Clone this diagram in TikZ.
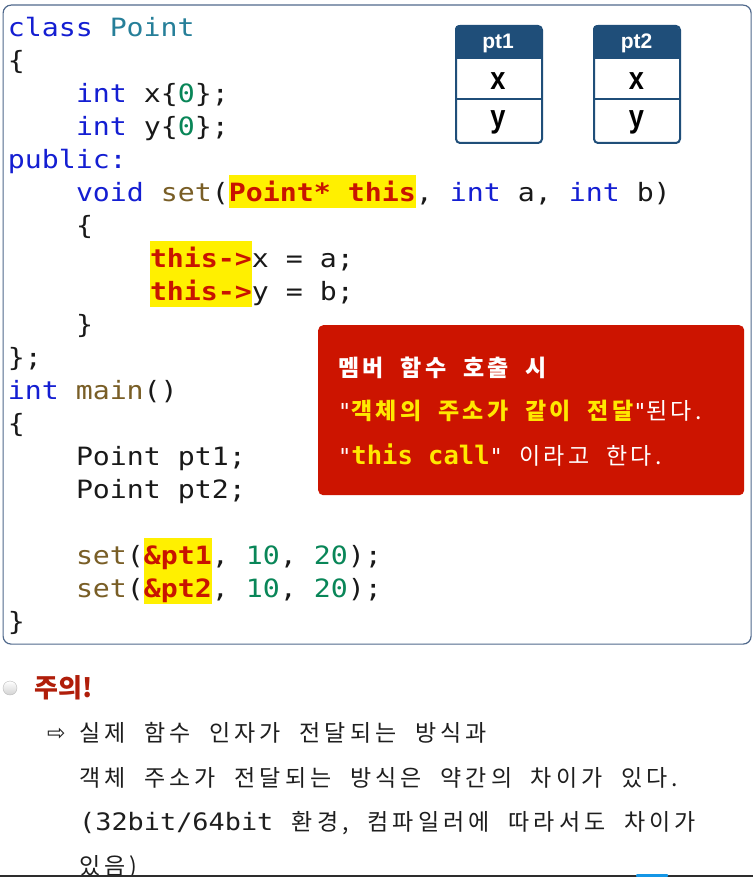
\documentclass[tikz,border=0pt]{standalone}
\usepackage{fontspec}
\setmainfont{DejaVu Sans}
\newfontfamily\codefont[FakeStretch=1.12]{DejaVu Sans Mono}
\newfontfamily\mymono{DejaVu Sans Mono}
\newfontfamily\krfont[LetterSpace=14,WordSpace=2]{Noto Sans CJK KR}
\newfontfamily\krbodyfont[LetterSpace=18,WordSpace=2]{Noto Sans CJK KR}
\newfontfamily\krplainfont{Noto Sans CJK KR}
\newfontfamily\hdrfont{Liberation Sans}
\newfontfamily\cellfont[FakeStretch=0.85]{Liberation Sans}
\newfontfamily\arrowfont{DejaVu Sans}

\definecolor{kwblue}{RGB}{20,30,210}
\definecolor{tyteal}{RGB}{38,127,153}
\definecolor{fnbrown}{RGB}{121,94,38}
\definecolor{numgreen}{RGB}{9,134,88}
\definecolor{codeblack}{RGB}{25,25,25}
\definecolor{hlyellow}{RGB}{255,240,0}
\definecolor{hlred}{RGB}{200,20,0}
\definecolor{frameblue}{RGB}{80,105,140}
\definecolor{hdrblue}{RGB}{31,78,121}
\definecolor{calloutred}{RGB}{204,20,0}
\definecolor{calloutyellow}{RGB}{255,232,0}
\definecolor{warnred}{RGB}{176,30,10}
\definecolor{bodytext}{RGB}{30,30,30}
\definecolor{bardark}{RGB}{45,45,45}
\definecolor{barblue}{RGB}{20,150,230}

\newcommand\ckw[1]{\textcolor{kwblue}{#1}}
\newcommand\cty[1]{\textcolor{tyteal}{#1}}
\newcommand\cfn[1]{\textcolor{fnbrown}{#1}}
\newcommand\cnum[1]{\textcolor{numgreen}{#1}}
\newcommand\chl[1]{{\setlength{\fboxsep}{0pt}\colorbox{hlyellow}{\rule[-6.75pt]{0pt}{33pt}\bfseries\color{hlred}#1}}}
\newcommand\cq{\mymono\fontsize{22}{22}\selectfont}
\newcommand\cmb{\mymono\bfseries\fontsize{25.5}{25.5}\selectfont}
\newcommand\bodylatin{\codefont\fontsize{24}{24}\selectfont}

\tikzset{
  code/.style={anchor=base west, inner sep=0pt, outer sep=0pt,
    font=\codefont\fontsize{25.2}{33}\selectfont, text=codeblack},
  hdrtxt/.style={anchor=base, inner sep=0pt, text=white,
    font=\hdrfont\bfseries\fontsize{21}{21}\selectfont},
  celltxt/.style={anchor=base, inner sep=0pt, text=black,
    font=\cellfont\bfseries\fontsize{32}{32}\selectfont},
  cotxt/.style={anchor=base west, inner sep=0pt, text=white,
    font=\krfont\fontsize{23}{23}\selectfont},
  bodytxt/.style={anchor=base west, inner sep=0pt, text=bodytext,
    font=\krbodyfont\fontsize{23}{23}\selectfont},
  ptbox/.style={draw=hdrblue, line width=2pt, rounded corners=4pt,
    minimum width=86pt, minimum height=117pt, inner sep=0pt, anchor=north west},
}

\begin{document}
\begin{tikzpicture}[x=1pt,y=-1pt]
\useasboundingbox (0,0) rectangle (753,877);
\fill[white] (0,0) rectangle (753,877);

% main code frame
\node[draw=frameblue, line width=1.2pt, rounded corners=8pt, minimum width=748pt,
  minimum height=639pt, inner sep=0pt, anchor=north west] (frame) at (2.5,4.5) {};

% object boxes
\foreach \nm/\xx in {pt1/455, pt2/593}{
  \begin{scope}
    \clip[rounded corners=4pt] (\xx,25) rectangle ++(86,117);
    \fill[hdrblue] (\xx,25) rectangle ++(86,34);
  \end{scope}
  \node[ptbox] (\nm box) at (\xx,25) {};
  \draw[hdrblue, line width=2pt] (\xx,99) -- ++(86,0);
}
\node[hdrtxt] (pt1name) at (498,49) {pt1};
\node[celltxt] (pt1x) at (498,90) {x};
\node[celltxt] (pt1y) at (498,128) {y};
\node[hdrtxt] (pt2name) at (636.5,49) {pt2};
\node[celltxt] (pt2x) at (636.5,90) {x};
\node[celltxt] (pt2y) at (636.5,128) {y};

% callout
\node[fill=calloutred, rounded corners=5pt, minimum width=426pt, minimum height=170pt,
  inner sep=0pt, anchor=north west] (callout) at (318,325) {};
\node[cotxt] (co1) at (338,376) {\bfseries 멤버 함수 호출 시};
\node[cotxt] (co2) at (338,419) {{\cq"}\textcolor{calloutyellow}{\bfseries 객체의 주소가 같이 전달}{\cq"}된다.};
\node[cotxt] (co3) at (338,464) {{\cq"}\textcolor{calloutyellow}{\cmb this call}{\cq"} 이라고 한다.};

% code
\node[code] (c0) at (7.8,36.5) {\ckw{class} \cty{Point}};
\node[code] (c1) at (7.8,69.5) {\{};
\node[code] (c2) at (76,102.5) {\ckw{int} x\{\cnum{0}\};};
\node[code] (c3) at (76,135.5) {\ckw{int} y\{\cnum{0}\};};
\node[code] (c4) at (7.8,168.5) {\ckw{public:}};
\node[code] (c5) at (76,201.5) {\ckw{void} \cfn{set}(\chl{Point* this}, \ckw{int} a, \ckw{int} b)};
\node[code] (c6) at (76,234.5) {\{};
\node[code] (c7) at (150,267.5) {\chl{this->}x = a;};
\node[code] (c8) at (150,300.5) {\chl{this->}y = b;};
\node[code] (c9) at (76,333.5) {\}};
\node[code] (c10) at (7.8,366.5) {\};};
\node[code] (c11) at (7.8,399.5) {\ckw{int} \cfn{main}()};
\node[code] (c12) at (7.8,432.5) {\{};
\node[code] (c13) at (76,465.5) {Point pt1;};
\node[code] (c14) at (76,498.5) {Point pt2;};
\node[code] (c16) at (76,564.5) {\cfn{set}(\chl{\&pt1}, \cnum{10}, \cnum{20});};
\node[code] (c17) at (76,597.5) {\cfn{set}(\chl{\&pt2}, \cnum{10}, \cnum{20});};
\node[code] (c18) at (7.8,630.5) {\}};

% note below
\node[circle, draw=gray!55, top color=white, bottom color=gray!35, minimum size=14pt,
  inner sep=0pt] (bullet) at (10,688) {};
\node[anchor=base west, inner sep=0pt, text=warnred,
  font=\krplainfont\bfseries\fontsize{26}{26}\selectfont] (warn) at (34,697) {주의!};
\node[anchor=base west, inner sep=0pt, text=bodytext,
  font=\arrowfont\fontsize{22}{22}\selectfont] (arrow) at (47,740) {⇨};
\node[bodytxt] (b1) at (79,741) {실제 함수 인자가 전달되는 방식과};
\node[bodytxt] (b2) at (79,786) {객체 주소가 전달되는 방식은 약간의 차이가 있다.};
\node[bodytxt] (b3) at (79,830) {{\bodylatin (32bit/64bit} 환경, 컴파일러에 따라서도 차이가};
\node[bodytxt] (b4) at (79,874) {있음)};

% bottom bar
\fill[bardark] (0,874.5) rectangle (753,877);
\fill[barblue, rounded corners=1pt] (636,874) rectangle (668,877);
\end{tikzpicture}
\end{document}
